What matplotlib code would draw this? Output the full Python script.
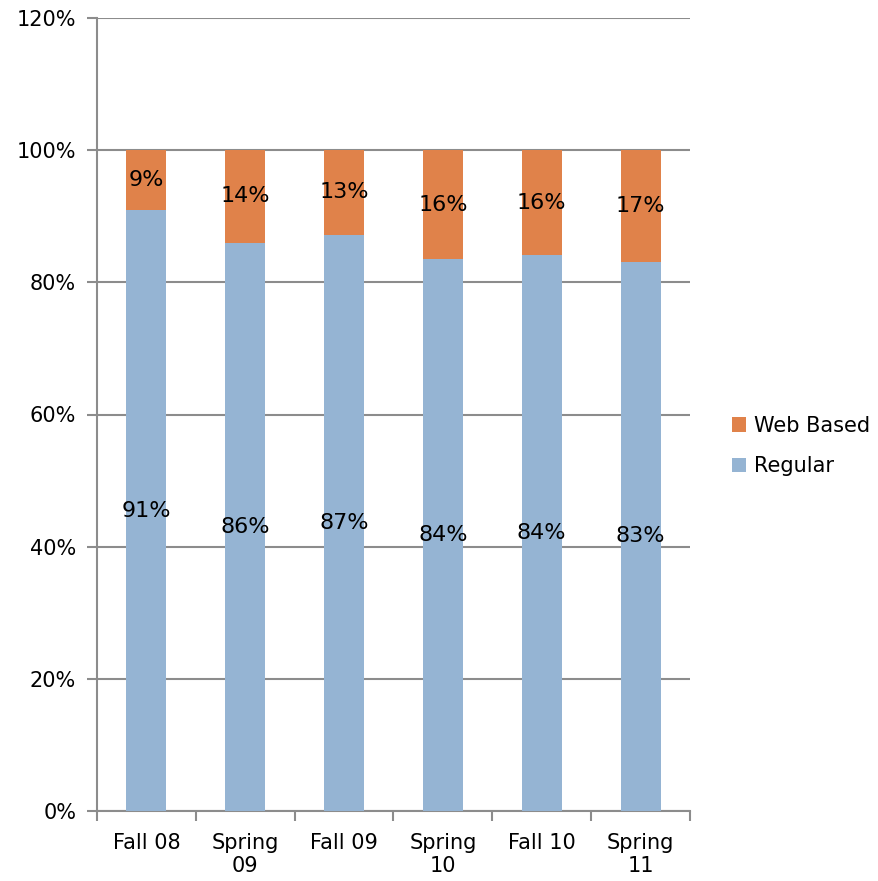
import matplotlib
matplotlib.use("Agg")
import matplotlib.pyplot as plt
import numpy as np
from matplotlib.ticker import FuncFormatter

categories = ["Fall 08", "Spring\n09", "Fall 09", "Spring\n10", "Fall 10", "Spring\n11"]
regular = [91, 86, 87, 84, 84, 83]
web_based = [9, 14, 13, 16, 16, 17]
regular_pos = [90.9, 86.0, 87.2, 83.5, 84.1, 83.1]

plt.rcParams['font.family'] = ['DejaVu Sans']
fig = plt.figure(figsize=(8.79, 8.81), dpi=100)
ax = fig.add_axes([97/879, 1-811/881, (690-97)/879, (811-18)/881])

x = np.arange(len(categories))
reg_h = np.array(regular_pos)
web_h = 100 - reg_h
c_reg = "#95B4D3"
c_web = "#E0824A"
ax.bar(x, reg_h, width=0.405, color=c_reg, label="Regular", zorder=3)
ax.bar(x, web_h, width=0.405, bottom=reg_h, color=c_web, label="Web Based", zorder=3)

for i in range(len(x)):
    ax.text(x[i], reg_h[i]/2, f"{regular[i]}%", ha="center", va="center", fontsize=16, zorder=4)
    ax.text(x[i], reg_h[i] + web_h[i]/2, f"{web_based[i]}%", ha="center", va="center", fontsize=16, zorder=4)

ax.set_ylim(0, 120)
ax.set_xlim(-0.5, len(x) - 0.5)
ax.set_yticks(np.arange(0, 121, 20))
ax.yaxis.set_major_formatter(FuncFormatter(lambda v, p: f"{int(v)}%"))
ax.yaxis.grid(True, color="#8c8c8c", linewidth=1.5, zorder=0)
ax.set_xticks(x)
ax.set_xticklabels(categories, fontsize=15, linespacing=1.15)
ax.set_xticks(np.arange(-0.5, len(x), 1), minor=True)
ax.tick_params(axis="x", which="major", length=0, pad=16)
ax.tick_params(axis="x", which="minor", length=7, width=1.5, color="#8c8c8c")
ax.tick_params(axis="y", length=7, width=1.5, color="#8c8c8c", labelsize=15, pad=8)
for s in ["top", "right"]:
    ax.spines[s].set_visible(False)
for s in ["left", "bottom"]:
    ax.spines[s].set_color("#8c8c8c")
    ax.spines[s].set_linewidth(1.5)

handles, labels = ax.get_legend_handles_labels()
fig.legend(handles[::-1], labels[::-1], loc="center left", bbox_to_anchor=(713/879, 1-446/881),
           frameon=False, fontsize=15, handlelength=0.7, handleheight=0.7, handletextpad=0.35,
           labelspacing=1.0)

fig.savefig("out.png", dpi=100)
